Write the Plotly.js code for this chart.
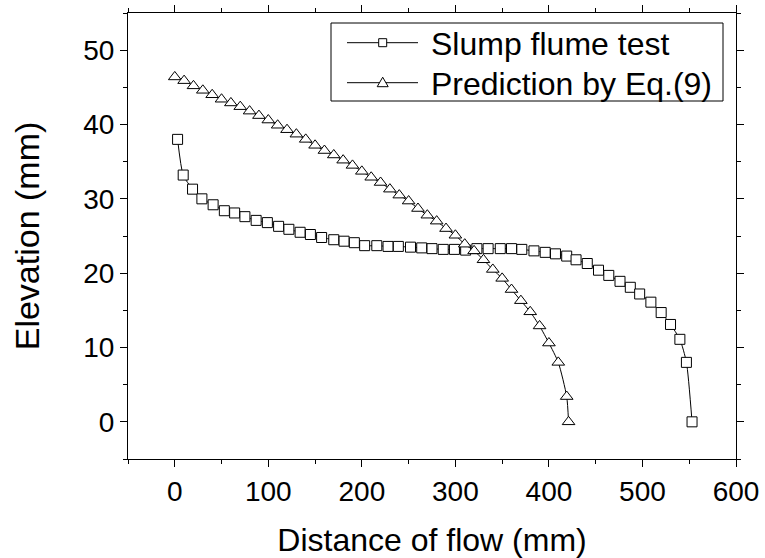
<!DOCTYPE html>
<html>
<head>
<meta charset="utf-8">
<script src="https://cdn.plot.ly/plotly-3.0.1.min.js"></script>
<style>html,body{margin:0;padding:0;background:#fff;}#chart{width:765px;height:558px;}</style>
</head>
<body>
<div id="chart"></div>
<script>
// Slump flume test (squares)
var slumpX = [3, 9, 19, 29, 41, 53, 64, 75, 87, 99, 111, 122, 134, 145, 157, 170, 181, 192, 203, 216, 228, 239, 252, 264, 275, 287, 299, 311, 323, 335, 348, 360, 371, 384, 396, 407, 419, 429, 441, 453, 464, 476, 487, 497, 509, 520, 530, 540, 547, 553];
var slumpY = [38.0, 33.2, 31.3, 30.0, 29.2, 28.4, 28.1, 27.6, 27.1, 26.8, 26.3, 25.9, 25.5, 25.2, 24.8, 24.5, 24.3, 24.1, 23.7, 23.7, 23.6, 23.6, 23.5, 23.4, 23.3, 23.2, 23.2, 23.1, 23.3, 23.3, 23.3, 23.3, 23.2, 23.0, 22.8, 22.6, 22.3, 21.8, 21.3, 20.4, 19.7, 18.9, 18.1, 17.2, 16.1, 14.7, 13.1, 11.1, 8.0, 0];
// Prediction by Eq.(9) (triangles)
var predX = [0, 10, 20, 30, 40, 50, 60, 70, 80, 90, 100, 110, 120, 130, 140, 150, 160, 170, 180, 190, 200, 210, 220, 230, 240, 250, 260, 270, 280, 290, 300, 310, 320, 330, 340, 350, 360, 370, 380, 390, 400, 410, 419, 421];
var predY = [46.4, 45.9, 45.2, 44.6, 44.0, 43.4, 42.9, 42.4, 41.8, 41.2, 40.6, 39.9, 39.3, 38.7, 38.0, 37.2, 36.5, 35.9, 35.2, 34.5, 33.7, 32.9, 32.2, 31.3, 30.5, 29.7, 28.7, 27.8, 27.0, 26.0, 25.1, 23.9, 23.0, 21.8, 20.5, 19.3, 17.8, 16.3, 14.8, 12.9, 10.6, 8.0, 3.4, 0];
var seriesNames = ["Slump flume test", "Prediction by Eq.(9)"];
var xTickVals = [0, 100, 200, 300, 400, 500, 600];
var yTickVals = [0, 10, 20, 30, 40, 50];

var font = "Liberation Sans, Arial, sans-serif";
var W = 765, H = 558;
var M = {l: 128, r: 29, t: 13, b: 99};
var PW = W - M.l - M.r, PH = H - M.t - M.b;
function px(x) { return (x - M.l) / PW; }
function py(y) { return (H - M.b - y) / PH; }

var traces = [
  {x: slumpX, y: slumpY, name: seriesNames[0], type: "scatter", mode: "lines+markers",
   line: {color: "#000", width: 1, shape: "spline", smoothing: 0.6},
   marker: {symbol: "square", size: 10, color: "#fff", line: {color: "#000", width: 1}}},
  {x: predX, y: predY, name: seriesNames[1], type: "scatter", mode: "lines+markers",
   line: {color: "#000", width: 1, shape: "spline", smoothing: 0.6},
   marker: {symbol: "triangle-up", size: 11, color: "#fff", line: {color: "#000", width: 1}}}
];

// Legend (drawn as a box with sample line, marker and text, Origin-style)
var legRows = [42.7, 82.7];
var legLine = [347, 418], legMark = 382.7, legText = 430;
var shapes = [
  {type: "rect", xref: "paper", yref: "paper", x0: px(331), x1: px(723), y0: py(101), y1: py(23),
   line: {color: "#000", width: 1}, fillcolor: "#fff", layer: "above"}
];
var annotations = [];
legRows.forEach(function (ry, i) {
  shapes.push({type: "line", xref: "paper", yref: "paper", x0: px(legLine[0]), x1: px(legLine[1]),
               y0: py(ry), y1: py(ry), line: {color: "#000", width: 1}, layer: "above"});
  if (i === 0) {
    shapes.push({type: "rect", xref: "paper", yref: "paper", x0: px(legMark - 4), x1: px(legMark + 4),
                 y0: py(ry + 4), y1: py(ry - 4), line: {color: "#000", width: 1}, fillcolor: "#fff", layer: "above"});
  } else {
    shapes.push({type: "path", xref: "paper", yref: "paper",
                 path: "M" + px(legMark) + "," + py(ry - 5.5) + " L" + px(legMark + 5.5) + "," + py(ry + 4) +
                       " L" + px(legMark - 5.5) + "," + py(ry + 4) + " Z",
                 line: {color: "#000", width: 1}, fillcolor: "#fff", layer: "above"});
  }
  annotations.push({xref: "paper", yref: "paper", x: px(legText), y: py(ry + 1), xanchor: "left", yanchor: "middle",
                    text: seriesNames[i], showarrow: false, borderpad: 0,
                    font: {family: font, size: 32, color: "#000"}});
});

var axisCommon = {
  showgrid: false, zeroline: false, showline: true, linecolor: "#000", linewidth: 1,
  mirror: "ticks", ticks: "outside", tickcolor: "#000", tickwidth: 1, ticklen: 7,
  tickfont: {family: font, size: 28, color: "#000"}
};
var layout = {
  width: W, height: H,
  margin: M,
  paper_bgcolor: "#fff", plot_bgcolor: "#fff",
  font: {family: font, color: "#000"},
  showlegend: false,
  shapes: shapes, annotations: annotations,
  xaxis: Object.assign({}, axisCommon, {
    range: [-50, 600], tickvals: xTickVals,
    minor: {dtick: 50, tick0: 0, ticks: "outside", ticklen: 4, tickcolor: "#000"},
    title: {text: "Distance of flow (mm)", font: {family: font, size: 32, color: "#000"}, standoff: 25}
  }),
  yaxis: Object.assign({}, axisCommon, {
    range: [-5, 55], tickvals: yTickVals,
    minor: {dtick: 5, tick0: 0, ticks: "outside", ticklen: 4, tickcolor: "#000"},
    title: {text: "Elevation (mm)", font: {family: font, size: 34, color: "#000"}, standoff: 33}
  })
};
Plotly.newPlot("chart", traces, layout, {staticPlot: true});
</script>
</body>
</html>
